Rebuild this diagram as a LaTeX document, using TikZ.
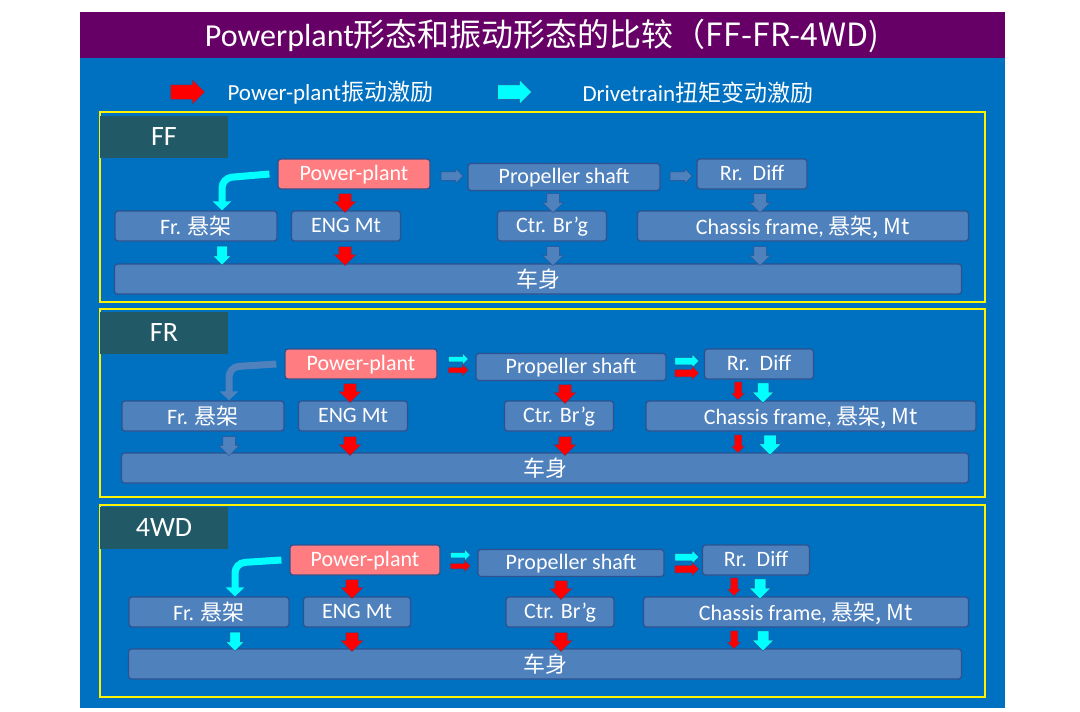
\documentclass[tikz,border=0pt]{standalone}
\usepackage{fontspec}
\setmainfont{Carlito}
\newfontfamily\cjk{Noto Sans CJK SC}
\usetikzlibrary{shapes.arrows,arrows.meta,calc}
\definecolor{bgblue}{HTML}{0070C0}
\definecolor{boxc}{HTML}{4F81BD}
\definecolor{bdr}{HTML}{2F528F}
\definecolor{tabc}{HTML}{215A66}
\definecolor{titlec}{HTML}{660066}
\definecolor{pinkc}{HTML}{FF7C80}
\definecolor{cyanc}{HTML}{00FFFF}
\definecolor{redc}{HTML}{FF0000}
\tikzset{
  box/.style={draw=bdr, fill=boxc, rounded corners=3pt, line width=1.2pt, text=white,
    font=\fontsize{22}{24}\selectfont, minimum height=30, inner sep=0, text depth=2pt},
  pbox/.style={box, fill=pinkc},
  panel/.style={draw=yellow, line width=1.5pt},
  tab/.style={fill=tabc, text=white, font=\fontsize{28}{30}\selectfont, minimum width=128, minimum height=42, inner sep=0},
  blk/.style n args={3}{single arrow, inner xsep=0, inner ysep={#2*0.5pt}, minimum width=0,
    single arrow head extend={#3*1pt}, minimum height=#1, draw=bdr, line width=.5pt},
  dn/.style n args={3}{blk={#1}{#2}{#3}, rotate=-90},
  rt/.style n args={3}{blk={#1}{#2}{#3}},
  curvearr/.style={line width=7pt, rounded corners=10pt, -{Triangle[length=9pt 0,width=18pt 0]}}
}
\begin{document}
\begin{tikzpicture}[x=1pt,y=-1pt]
\useasboundingbox (0,0) rectangle (1080,712);
\fill[bgblue] (80,58) rectangle (1005,708);
\fill[titlec] (80,12) rectangle (1005,58);
\node[text=white, font=\fontsize{32}{34}\selectfont] (title) at (542,36) {Powerplant\cjk{形态和振动形态的比较（}FF-FR-4WD)};
% legend
\node[rt={34}{14}{5}, fill=redc] (lgr) at (184,92) {};
\node[anchor=west, text=white, font=\fontsize{23}{25}\selectfont] (lgrt) at (224,93) {Power-plant\cjk{振动激励}};
\node[rt={34}{14}{5}, fill=cyanc] (lgc) at (511,92) {};
\node[anchor=west, text=white, font=\fontsize{23}{25}\selectfont] (lgct) at (579,93) {Drivetrain\cjk{扭矩变动激励}};
% FF
\draw[panel] (100,112) rectangle (985,302);
\node[tab] (fft) at (164,137) {FF};
\node[pbox, minimum width=152] (ffpp) at (354,174) {Power-plant};
\node[box, minimum width=192, minimum height=27] (ffps) at (564,177) {Propeller shaft};
\node[box, minimum width=110] (ffrr) at (752,174) {Rr.\ \ Diff};
\node[box, minimum width=162] (fffr) at (196,226) {Fr. \cjk{悬架}};
\node[box, minimum width=109] (ffeng) at (346,226) {ENG Mt};
\node[box, minimum width=109] (ffctr) at (552,226) {Ctr. Br’g};
\node[box, minimum width=331] (ffch) at (803,226) {Chassis frame, \cjk{悬架}, Mt};
\node[box, minimum width=847] (ffbody) at (538,279) {\cjk{车身}};
\node[rt={22}{8}{3}, fill=boxc] at (450,176) {};
\node[rt={22}{8}{3}, fill=boxc] at (679,176) {};
\node[dn={19}{12}{5}, fill=redc] at (345,200) {};
\node[dn={19}{12}{5}, fill=redc] at (345,253) {};
\node[dn={19}{10}{4}, fill=cyanc] at (222,253) {};
\node[dn={19}{12}{4}, fill=boxc] at (553,200) {};
\node[dn={19}{12}{4}, fill=boxc] at (553,253) {};
\node[dn={19}{12}{4}, fill=boxc] at (760,200) {};
\node[dn={19}{12}{4}, fill=boxc] at (760,253) {};
\draw[curvearr, cyanc] ([xshift=-8]ffpp.west) -- (222,178) -- (fffr.north -| 222,0);
% FR
\draw[panel] (100,309) rectangle (985,497);
\node[tab] (frt) at (164,333) {FR};
\node[pbox, minimum width=152] (frpp) at (361,364) {Power-plant};
\node[box, minimum width=190, minimum height=27] (frps) at (571,367) {Propeller shaft};
\node[box, minimum width=109] (frrr) at (759,364) {Rr.\ \ Diff};
\node[box, minimum width=162] (frfr) at (203,416) {Fr. \cjk{悬架}};
\node[box, minimum width=109] (freng) at (353,416) {ENG Mt};
\node[box, minimum width=109] (frctr) at (559,416) {Ctr. Br’g};
\node[box, minimum width=330] (frch) at (811,416) {Chassis frame, \cjk{悬架}, Mt};
\node[box, minimum width=847] (frbody) at (545,468) {\cjk{车身}};
\node[rt={20}{5}{3}, fill=cyanc] at (457,359) {};
\node[rt={20}{5}{3}, fill=redc] at (457,370) {};
\node[rt={24}{7}{3}, fill=cyanc] at (685,361) {};
\node[rt={24}{7}{3}, fill=redc] at (685,373) {};
\node[dn={19}{12}{5}, fill=redc] at (350,390) {};
\node[dn={19}{12}{5}, fill=redc] at (350,443) {};
\node[dn={19}{12}{4}, fill=boxc] at (229,443) {};
\node[dn={19}{12}{5}, fill=redc] at (565,391) {};
\node[dn={19}{12}{5}, fill=redc] at (565,443) {};
\node[dn={18}{7}{3}, fill=redc] at (738,389) {};
\node[dn={20}{11}{5}, fill=cyanc] at (763,390) {};
\node[dn={18}{7}{3}, fill=redc] at (738,442) {};
\node[dn={20}{12}{5}, fill=cyanc] at (770,442) {};
\draw[curvearr, boxc] ([xshift=-8]frpp.west) -- (229,367) -- (frfr.north -| 229,0);
% 4WD
\draw[panel] (100,505) rectangle (985,697);
\node[tab] (wdt) at (164,528) {4WD};
\node[pbox, minimum width=150] (wdpp) at (365,560) {Power-plant};
\node[box, minimum width=186, minimum height=27] (wdps) at (571,563) {Propeller shaft};
\node[box, minimum width=107] (wdrr) at (756,560) {Rr.\ \ Diff};
\node[box, minimum width=160] (wdfr) at (209,612) {Fr. \cjk{悬架}};
\node[box, minimum width=107] (wdeng) at (357,612) {ENG Mt};
\node[box, minimum width=108] (wdctr) at (560,612) {Ctr. Br’g};
\node[box, minimum width=325] (wdch) at (806,612) {Chassis frame, \cjk{悬架}, Mt};
\node[box, minimum width=833] (wdbody) at (545,664) {\cjk{车身}};
\node[rt={20}{5}{3}, fill=cyanc] at (459,555) {};
\node[rt={20}{5}{3}, fill=redc] at (459,566) {};
\node[rt={24}{7}{3}, fill=cyanc] at (685,557) {};
\node[rt={24}{7}{3}, fill=redc] at (685,569) {};
\node[dn={19}{12}{5}, fill=redc] at (352,586) {};
\node[dn={19}{12}{5}, fill=redc] at (352,639) {};
\node[dn={19}{10}{4}, fill=cyanc] at (235,639) {};
\node[dn={19}{12}{5}, fill=redc] at (561,587) {};
\node[dn={19}{12}{5}, fill=redc] at (561,639) {};
\node[dn={18}{7}{3}, fill=redc] at (734,585) {};
\node[dn={20}{11}{5}, fill=cyanc] at (760,586) {};
\node[dn={18}{7}{3}, fill=redc] at (734,638) {};
\node[dn={20}{11}{5}, fill=cyanc] at (763,638) {};
\draw[curvearr, cyanc] ([xshift=-8]wdpp.west) -- (235,563) -- (wdfr.north -| 235,0);
\end{tikzpicture}
\end{document}
